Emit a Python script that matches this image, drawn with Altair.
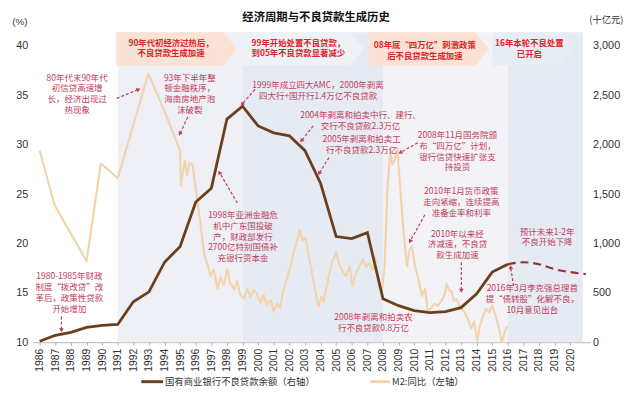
import math
import altair as alt
import pandas as pd

FONT = "Noto Sans CJK SC"
NUM_FONT = "Liberation Sans"
ANN = "#c23b5a"
HDR = "#d8262b"
BROWN = "#6a3f1e"
BEIGE = "#f1d4ae"

# ---------------- data ----------------
npl_years = [1986, 1987, 1988, 1989, 1990, 1991, 1992, 1993, 1994, 1995, 1996, 1997,
             1998, 1999, 2000, 2001, 2002, 2003, 2004, 2005, 2006, 2007, 2008, 2009,
             2010, 2011, 2012, 2013, 2014, 2015, 2016]
npl_vals = [10, 70, 100, 150, 170, 180, 410, 510, 810, 970, 1420, 1560,
            2260, 2390, 2190, 2120, 2090, 1940, 1610, 1070, 1050, 1110, 440, 370,
            320, 300, 310, 350, 490, 710, 790]
fc_years = [2016, 2017, 2018, 2019, 2020, 2021]
fc_vals = [790, 810, 790, 740, 710, 690]

m2_years = [1986.0, 1986.95, 1988.0, 1989.0, 1989.92, 1991.0, 1992.0, 1992.96, 1994.0, 1994.99,
            1995.05, 1995.3, 1995.45, 1995.6, 1995.8, 1996.1, 1996.3, 1996.55, 1996.75, 1996.95,
            1997.15, 1997.4, 1997.6, 1997.8, 1998.03, 1998.2, 1998.47, 1998.65, 1998.85, 1999.1,
            1999.3, 1999.5, 1999.7, 1999.92, 2000.15, 2000.35, 2000.55, 2000.8, 2001.0, 2001.2,
            2001.4, 2001.6, 2001.82, 2002.05, 2002.27, 2002.45, 2002.65, 2002.85, 2003.05, 2003.2,
            2003.38, 2003.53, 2003.7, 2003.85, 2004.05, 2004.2, 2004.35, 2004.55, 2004.75, 2004.99,
            2005.2, 2005.4, 2005.62, 2005.85, 2006.06, 2006.25, 2006.45, 2006.7, 2006.9, 2007.1,
            2007.33, 2007.5, 2007.7, 2007.9, 2008.1, 2008.28, 2008.47, 2008.6, 2008.75, 2008.91,
            2009.1, 2009.29, 2009.45, 2009.54, 2009.7, 2009.86, 2010.05, 2010.25, 2010.5, 2010.7,
            2010.87, 2011.1, 2011.3, 2011.5, 2011.75, 2011.95, 2012.08, 2012.25, 2012.4, 2012.55,
            2012.7, 2012.95, 2013.2, 2013.45, 2013.66, 2013.85, 2014.04, 2014.2, 2014.4, 2014.6,
            2014.8, 2014.99, 2015.2, 2015.43, 2015.62, 2015.8, 2015.94]
m2_vals = [29.4, 23.9, 21.0, 18.2, 28.1, 26.6, 32.0, 37.2, 33.4, 29.4,
           25.9, 28.4, 26.9, 28.2, 27.9, 24.4, 22.0, 18.8, 17.9, 16.7,
           17.4, 15.4, 16.6, 15.8, 17.4, 16.0, 15.4, 16.2, 14.8, 14.4,
           15.4, 14.6, 15.3, 14.9, 14.0, 14.8, 13.8, 14.3, 13.1, 13.9,
           13.5, 15.1, 16.4, 17.6, 19.1, 20.0, 21.4, 20.3, 20.6, 19.1,
           17.6, 16.4, 14.8, 13.6, 14.6, 14.1, 15.4, 16.8, 18.2, 19.1,
           17.9, 17.2, 16.7, 17.7, 15.7, 16.9, 17.6, 18.4, 17.6, 18.0,
           17.4, 18.6, 16.2, 14.8, 17.6, 25.4, 29.4, 28.0, 28.5, 29.7,
           25.7, 21.7, 19.0, 17.7, 19.4, 19.7, 17.7, 16.5, 14.7, 15.4,
           13.1, 13.5, 13.9, 13.7, 14.2, 14.8, 15.9, 15.3, 15.1, 14.2,
           14.4, 13.6, 13.1, 12.3, 11.4, 12.1, 10.1, 11.6, 12.6, 13.4,
           13.0, 13.7, 12.8, 11.4, 10.0, 11.0, 11.6]

year_ticks = list(range(1986, 2021))
left_ticks = [10, 15, 20, 25, 30, 35, 40]
right_ticks = [0, 500, 1000, 1500, 2000, 2500, 3000]

# period bands
band_start = [1991, 1999, 2008, 2016]
band_end = [1999, 2008, 2016, 2020.8]
band_col = ["#eff0f5", "#e6ebf3", "#f3f3f7", "#e5eaf3"]

# header arrows
hdr_start = [1990.9, 1998.7, 2007.1, 2015.0]
hdr_body_end = [1997.8, 2005.9, 2013.9, 2019.4]
hdr_tip = [1998.6, 2006.8, 2014.8, 2020.2]
hdr_col = ["#fbe2d4", "#eef1f6", "#fbe2d4", "#e8edf4"]
hdr_text = ["90年代初经济过热后，\n不良贷款生成加速",
            "99年开始处置不良贷款，\n到05年不良贷款显著减少",
            "08年底\u201c四万亿\u201d刺激政策\n后不良贷款生成加速",
            "16年本轮不良处置\n已开启"]
hdr_tx = [1994.42, 2002.58, 2010.68, 2017.38]
hdr_ty = [40.75, 40.75, 40.45, 40.65]

# annotations
ann_text = ["80年代末90年代\n初信贷高速增\n长，经济出现过\n热现象",
            "93年下半年整\n顿金融秩序，\n海南房地产泡\n沫破裂",
            "1999年成立四大AMC，2000年剥离\n四大行+国开行1.4万亿不良贷款",
            "2004年剥离和拍卖中行、建行、\n交行不良贷款2.3万亿",
            "2005年剥离和拍卖工\n行不良贷款2.3万亿",
            "2008年11月国务院颁\n布\u201c四万亿\u201d计划，\n银行信贷快速扩张支\n持投资",
            "2010年1月货币政策\n走向紧缩，连续提高\n准备金率和利率",
            "2010年以来经\n济减速，不良贷\n款生成加速",
            "1998年亚洲金融危\n机中广东国投破\n产，财政部发行\n2700亿特别国债补\n充银行资本金",
            "1980-1985年财政\n制度\u201c拨改贷\u201d改\n革后，政策性贷款\n开始增加",
            "2008年剥离和拍卖农\n行不良贷款0.8万亿",
            "2016年3月李克强总理首\n提\u201c债转股\u201d化解不良，\n10月意见出台",
            "预计未来1-2年\n不良开始下降"]
ann_x = [1988.40, 1995.62, 2003.84, 2006.56, 2006.63, 2012.77, 2013.02, 2012.77,
         1999.03, 1987.90, 2007.39, 2017.57, 2018.52]
ann_y = [37.2, 37.2, 36.4, 33.4, 31.0, 31.4, 25.7, 21.4, 23.3, 17.1, 12.9, 15.9, 21.6]

# dashed pointer arrows: tail -> head
arr_x1 = [1990.94, 1995.49, 1999.79, 2003.53, 2004.54, 2010.23, 2010.68, 2013.02, 1998.66, 1987.39, 2016.37]
arr_y1 = [34.7, 32.8, 35.6, 31.9, 28.7, 30.2, 22.9, 18.1, 24.1, 12.6, 15.7]
arr_x2 = [1992.33, 1994.98, 1998.97, 2002.77, 2003.91, 2009.10, 2009.73, 2013.02, 1997.52, 1987.39, 2016.18]
arr_y2 = [35.6, 31.1, 34.1, 30.4, 27.1, 29.2, 20.2, 15.2, 27.2, 11.2, 17.6]

# ---------------- layout ----------------
W, H = 565, 316
X0, X1 = 1985.55, 2021.3
YL0, YL1 = 10, 41.6
YR0, YR1 = 0, 3160
BAND_TOP, HDR_TOP, HDR_BOT = 41.4, 41.4, 38.0

xs = alt.Scale(domain=[X0, X1], nice=False, zero=False)
ysl = alt.Scale(domain=[YL0, YL1], nice=False, zero=False)
ysr = alt.Scale(domain=[YR0, YR1], nice=False, zero=False)

X_AXIS = alt.Axis(values=year_ticks, format="d", labelAngle=-90, labelAlign="right",
                  labelBaseline="middle", labelFont=NUM_FONT, labelFontSize=10.5,
                  labelColor="#333", labelPadding=3, tickSize=3, tickColor="#aaa",
                  domainColor="#b5b5b5", grid=False, title=None)
YL_AXIS = alt.Axis(values=left_ticks, orient="left", labelFont=NUM_FONT, labelFontSize=11,
                   labelColor="#333", labelPadding=5, tickSize=0, ticks=False, domain=False,
                   grid=False, title=None)
YR_AXIS = alt.Axis(values=right_ticks, orient="right", format=",.0f", labelFont=NUM_FONT,
                   labelFontSize=11, labelColor="#333", labelPadding=2, ticks=False,
                   domain=False, grid=False, title=None)


def xq(f):
    return alt.X(f, type="quantitative", scale=xs, axis=X_AXIS)


# bands
bands_df = pd.DataFrame({"s": band_start, "e": band_end, "c": band_col,
                         "top": [BAND_TOP] * 4, "bot": [YL0] * 4})
bands = alt.Chart(bands_df).mark_rect().encode(
    x=xq("s"), x2="e",
    y=alt.Y("top:Q", scale=ysl, axis=YL_AXIS), y2="bot",
    color=alt.Color("c:N", scale=None))

hdr_df = pd.DataFrame({"s": hdr_start, "e": hdr_body_end, "c": hdr_col,
                       "top": [HDR_TOP] * 4, "bot": [HDR_BOT] * 4})
hdr = alt.Chart(hdr_df).mark_rect().encode(
    x=xq("s"), x2="e",
    y=alt.Y("top:Q", scale=ysl, axis=YL_AXIS), y2="bot",
    color=alt.Color("c:N", scale=None))

mid = (HDR_TOP + HDR_BOT) / 2
tip_rows = []
for i in range(4):
    tip_rows.append({"id": i, "x": hdr_body_end[i], "t": HDR_TOP, "b": HDR_BOT, "c": hdr_col[i]})
    tip_rows.append({"id": i, "x": hdr_tip[i], "t": mid, "b": mid, "c": hdr_col[i]})
tips = alt.Chart(pd.DataFrame(tip_rows)).mark_area(opacity=1).encode(
    x=xq("x"),
    y=alt.Y("t:Q", scale=ysl, axis=YL_AXIS), y2="b",
    color=alt.Color("c:N", scale=None), detail="id:N")

m2 = alt.Chart(pd.DataFrame({"yr": m2_years, "v": m2_vals})).mark_line(
    color=BEIGE, strokeWidth=2.2, strokeJoin="round").encode(
    x=xq("yr"), y=alt.Y("v:Q", scale=ysl, axis=YL_AXIS))

bottom = alt.layer(bands, hdr, tips, m2)

npl = alt.Chart(pd.DataFrame({"yr": npl_years, "v": npl_vals})).mark_line(
    color=BROWN, strokeWidth=2.8).encode(
    x=xq("yr"), y=alt.Y("v:Q", scale=ysr, axis=YR_AXIS))
fc = alt.Chart(pd.DataFrame({"yr": fc_years, "v": fc_vals})).mark_line(
    color="#9b2f3e", strokeWidth=2.2, strokeDash=[8, 5], interpolate="monotone").encode(
    x=xq("yr"), y=alt.Y("v:Q", scale=ysr, axis=YR_AXIS))
middle = alt.layer(npl, fc)

# annotations
NOAX = None
pxx = W / (X1 - X0)
pxy = H / (YL1 - YL0)
angs = []
for a, b, c, d in zip(arr_x1, arr_y1, arr_x2, arr_y2):
    dx = (c - a) * pxx
    dy = -(d - b) * pxy
    angs.append(math.degrees(math.atan2(dx, -dy)) % 360)
arr_df = pd.DataFrame({"x1": arr_x1, "y1": arr_y1, "x2": arr_x2, "y2": arr_y2, "ang": angs})
arrows = alt.Chart(arr_df).mark_rule(color=ANN, strokeWidth=1.2, strokeDash=[3, 2]).encode(
    x=alt.X("x1:Q", scale=xs, axis=X_AXIS), x2="x2",
    y=alt.Y("y1:Q", scale=ysl, axis=NOAX), y2="y2")
heads = alt.Chart(arr_df).mark_point(shape="triangle-up", filled=True, size=22,
                                     color=ANN, opacity=1).encode(
    x=alt.X("x2:Q", scale=xs, axis=X_AXIS),
    y=alt.Y("y2:Q", scale=ysl, axis=NOAX),
    angle=alt.Angle("ang:Q", scale=None))

ann = alt.Chart(pd.DataFrame({"t": ann_text, "x": ann_x, "y": ann_y})).mark_text(
    font=FONT, fontSize=8.6, color=ANN, align="center", baseline="top",
    lineBreak="\n", lineHeight=11).encode(
    x=alt.X("x:Q", scale=xs, axis=X_AXIS),
    y=alt.Y("y:Q", scale=ysl, axis=NOAX), text="t:N")

hdr_txt = alt.Chart(pd.DataFrame({"t": hdr_text, "x": hdr_tx, "y": hdr_ty})).mark_text(
    font=FONT, fontSize=8.5, fontWeight="bold", color=HDR, align="center", baseline="top",
    lineBreak="\n", lineHeight=11).encode(
    x=alt.X("x:Q", scale=xs, axis=X_AXIS),
    y=alt.Y("y:Q", scale=ysl, axis=NOAX), text="t:N")

# title, units, legend
title = alt.Chart(pd.DataFrame({"t": ["经济周期与不良贷款生成历史"]})).mark_text(
    font=FONT, fontSize=11.5, fontWeight="bold", color="#111", align="center",
    baseline="middle").encode(x=alt.value(287), y=alt.value(-12), text="t:N")
unit_l = alt.Chart(pd.DataFrame({"t": ["(%)"]})).mark_text(
    font=NUM_FONT, fontSize=10, color="#333", align="center", baseline="middle").encode(
    x=alt.value(-13), y=alt.value(-8), text="t:N")
unit_r = alt.Chart(pd.DataFrame({"t": ["(十亿元)"]})).mark_text(
    font=FONT, fontSize=9.5, color="#333", align="center", baseline="middle").encode(
    x=alt.value(581), y=alt.value(-10), text="t:N")

leg_brown = alt.Chart(pd.DataFrame({"k": [0]})).mark_rule(color=BROWN, strokeWidth=3).encode(
    x=alt.value(110), x2=alt.value(132), y=alt.value(356))
leg_brown_t = alt.Chart(pd.DataFrame({"t": ["国有商业银行不良贷款余额（右轴）"]})).mark_text(
    font=FONT, fontSize=9.5, color="#333", align="left", baseline="middle").encode(
    x=alt.value(134), y=alt.value(356), text="t:N")
leg_beige = alt.Chart(pd.DataFrame({"k": [0]})).mark_rule(color=BEIGE, strokeWidth=3).encode(
    x=alt.value(342), x2=alt.value(362), y=alt.value(356))
leg_beige_t = alt.Chart(pd.DataFrame({"t": ["M2:同比（左轴）"]})).mark_text(
    font=FONT, fontSize=9.5, color="#333", align="left", baseline="middle").encode(
    x=alt.value(364), y=alt.value(356), text="t:N")

top = alt.layer(arrows, heads, ann, hdr_txt)
decor = alt.layer(title, unit_l, unit_r, leg_brown, leg_brown_t, leg_beige, leg_beige_t)

chart = alt.layer(bottom, middle, top, decor).resolve_scale(y="independent").properties(
    width=W, height=H,
    padding={"left": 25, "top": 20, "right": 42, "bottom": 52},
    autosize="none",
    background="white",
).configure_view(strokeWidth=0)

chart.save("out.html", embed_options={"renderer": "svg", "actions": False})
